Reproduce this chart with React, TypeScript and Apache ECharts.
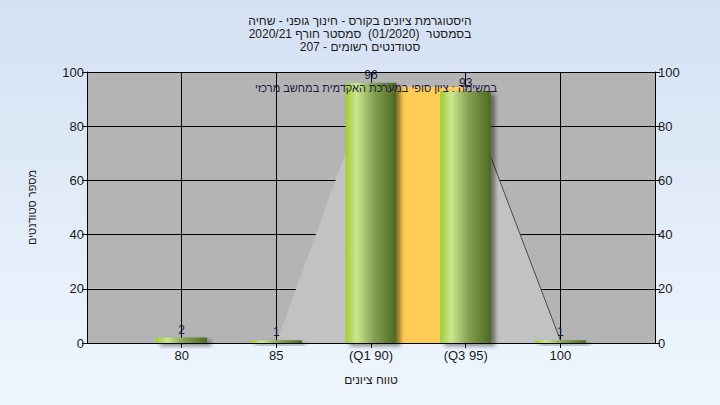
import React, { useEffect, useRef } from "react";
import * as echarts from "echarts";

const titleLines = [
  "היסטוגרמת ציונים בקורס - חינוך גופני - שחיה",
  "בסמסטר  (01/2020)  סמסטר חורף 2020/21",
  "סטודנטים רשומים - 207",
];
const legendText = "במשימה : ציון סופי במערכת האקדמית במחשב מרכזי";
const xAxisName = "טווח ציונים";
const yAxisName = "מספר סטודנטים";

const gradePoints = [80, 85, 90, 95, 100];
const gradeLabels = ["80", "85", "(Q1 90)", "(Q3 95)", "100"];
const studentCounts = [2, 1, 96, 93, 1];
const areaPoints = [85, 90, 95, 100];
const areaValues = [0, 96, 93, 1];
const tailLinePoints = [95, 100];
const tailLineValues = [93, 1];
const quartileRange = [90, 95];
const quartileHeight = 94.5;

const FONT = "'Liberation Sans', Arial, sans-serif";

export default function App() {
  const ref = useRef<HTMLDivElement>(null);
  useEffect(() => {
    if (!ref.current) return;
    const chart = echarts.init(ref.current, undefined, { renderer: "svg" });
    const barGradient = new echarts.graphic.LinearGradient(0, 0, 1, 0, [
      { offset: 0, color: "#9fcc38" },
      { offset: 0.22, color: "#cbe78f" },
      { offset: 0.55, color: "#86a152" },
      { offset: 1, color: "#4b6921" },
    ]);
    chart.setOption({
      animation: false,
      backgroundColor: new echarts.graphic.LinearGradient(0, 0, 0, 1, [
        { offset: 0, color: "#d4e1f3" },
        { offset: 1, color: "#eff6fe" },
      ]),
      textStyle: { fontFamily: FONT },
      title: [
        {
          text: titleLines.join("\n"),
          left: "center",
          top: 9,
          textStyle: {
            fontFamily: FONT,
            fontSize: 12,
            fontWeight: "normal",
            color: "#1a1a1a",
            lineHeight: 13,
          },
        },
        {
          text: legendText,
          left: 371,
          textAlign: "center",
          top: 77,
          textStyle: {
            fontFamily: FONT,
            fontSize: 11,
            fontWeight: "normal",
            color: "#1a1a40",
          },
          z: 20,
        },
      ],
      grid: { left: 87, right: 65, top: 72, bottom: 62 },
      xAxis: {
        type: "value",
        min: 75,
        max: 105,
        interval: 5,
        name: xAxisName,
        nameLocation: "middle",
        nameGap: 31,
        nameTextStyle: { fontFamily: FONT, fontSize: 12, color: "#1a1a1a" },
        axisLine: { show: true, lineStyle: { color: "#000", width: 1 } },
        axisTick: {
          show: true,
          length: 5,
          lineStyle: { color: "#000" },
          customValues: gradePoints,
        },
        axisLabel: {
          fontFamily: FONT,
          fontSize: 13,
          color: "#1a1a1a",
          margin: 6,
          customValues: gradePoints,
          formatter: (v: number) => {
            const i = gradePoints.indexOf(v);
            return i >= 0 ? gradeLabels[i] : "";
          },
        },
        splitLine: { show: true, lineStyle: { color: "#000", width: 1 } },
      },
      yAxis: [
        {
          type: "value",
          min: 0,
          max: 100,
          interval: 20,
          position: "left",
          name: yAxisName,
          nameLocation: "middle",
          nameGap: 50,
          nameRotate: 90,
          nameTextStyle: { fontFamily: FONT, fontSize: 11, color: "#1a1a1a" },
          axisLine: { show: true, lineStyle: { color: "#000" } },
          axisTick: { show: true, length: 5, lineStyle: { color: "#000" } },
          axisLabel: { fontFamily: FONT, fontSize: 13, color: "#1a1a1a", margin: 3 },
          splitLine: { show: true, lineStyle: { color: "#000", width: 1 } },
          splitArea: { show: true, areaStyle: { color: ["#b4b4b4"] } },
        },
        {
          type: "value",
          min: 0,
          max: 100,
          interval: 20,
          position: "right",
          axisLine: { show: true, lineStyle: { color: "#000" } },
          axisTick: { show: true, length: 5, lineStyle: { color: "#000" } },
          axisLabel: { fontFamily: FONT, fontSize: 13, color: "#1a1a1a", margin: 3 },
          splitLine: { show: false },
        },
      ],
      series: [
        {
          type: "line",
          z: 1,
          symbol: "none",
          data: areaPoints.map((x, i) => [x, areaValues[i]]),
          lineStyle: { width: 0 },
          areaStyle: { color: "#c2c2c2", opacity: 1 },
          silent: true,
        },
        {
          type: "line",
          z: 2,
          symbol: "none",
          data: tailLinePoints.map((x, i) => [x, tailLineValues[i]]),
          lineStyle: { width: 1, color: "#4a4a4a" },
          silent: true,
        },
        {
          type: "custom",
          z: 2,
          silent: true,
          data: [[quartileRange[0], quartileRange[1], quartileHeight]],
          encode: { x: [0, 1], y: 2 },
          renderItem: (params: any, api: any) => {
            const p0 = api.coord([api.value(0), 0]);
            const p1 = api.coord([api.value(1), api.value(2)]);
            return {
              type: "rect",
              shape: { x: p0[0], y: p1[1], width: p1[0] - p0[0], height: p0[1] - p1[1] },
              style: { fill: "#ffcc55" },
            };
          },
        },
        {
          type: "bar",
          z: 3,
          barWidth: 51,
          data: gradePoints.map((x, i) => [x, studentCounts[i]]),
          itemStyle: {
            color: barGradient,
            shadowColor: "rgba(0,0,0,0.45)",
            shadowBlur: 4,
            shadowOffsetX: 4,
            shadowOffsetY: 3,
          },
          label: {
            show: true,
            position: "top",
            distance: 2,
            fontFamily: FONT,
            fontSize: 12,
            color: "#1a1a40",
            formatter: (p: any) => String(p.value[1]),
          },
        },
      ],
    });
    return () => chart.dispose();
  }, []);
  return <div ref={ref} style={{ width: 720, height: 405, position: "absolute", left: 0, top: 0 }} />;
}
